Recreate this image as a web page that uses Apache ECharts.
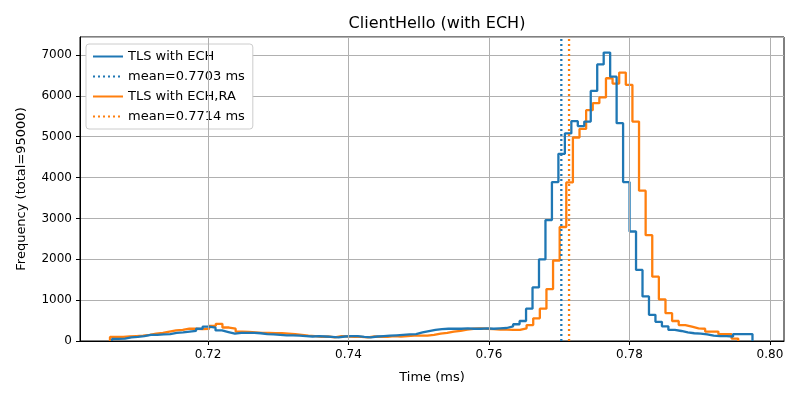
<!DOCTYPE html>
<html><head><meta charset="utf-8">
<script src="https://cdn.jsdelivr.net/npm/echarts@6/dist/echarts.min.js"></script>
<style>html,body{margin:0;padding:0;background:#fff}#c{width:800px;height:400px}</style>
</head><body><div id="c"></div>
<script>
const blueStart = 0.706335, blueWidth = 0.000921;
const blueCounts = [50,60,90,100,120,150,150,160,170,200,210,230,250,300,350,330,260,220,180,200,
200,200,190,170,160,150,140,140,130,120,110,120,110,100,90,110,120,120,100,90,
110,120,130,140,150,160,170,210,240,270,290,300,300,300,310,300,300,310,300,310,
318,360,410,490,790,1310,2000,2960,3890,4580,5080,5380,5260,5370,6120,6770,7060,6470,5330,3890,
2680,1740,1090,640,470,360,270,245,210,190,180,160,130,120,120,110,170,170,170];
const orangeStart = 0.70605, orangeWidth = 0.0009414;
const orangeCounts = [100,100,110,120,130,150,180,200,230,260,270,300,300,290,300,370,420,330,300,230,
220,210,200,200,190,190,180,170,150,130,120,100,110,90,120,110,100,100,90,110,
100,100,120,110,120,130,130,130,150,180,200,230,250,280,300,310,300,290,280,280,
270,270,310,390,555,790,1270,1970,2790,3880,4980,5190,5650,5820,5960,6430,6300,6570,6270,5370,
3680,2590,1575,1020,680,490,390,350,310,300,230,230,165,165,60];
const blueMean = 0.7703, orangeMean = 0.7714;
const xTicks = [0.72,0.74,0.76,0.78,0.80];
const yMax = 7440;

function stepPts(start, w, counts){
  const p=[[start,0]];
  counts.forEach((c,i)=>{p.push([start+i*w,c]);p.push([start+(i+1)*w,c]);});
  p.push([start+counts.length*w,0]);
  return p;
}
const BLUE='#1f77b4', ORANGE='#ff7f0e';
const chart = echarts.init(document.getElementById('c'));
chart.setOption({
  animation:false,
  title:{text:'ClientHello (with ECH)',left:432,top:11,textAlign:'center',textStyle:{fontFamily:'DejaVu Sans',fontSize:16,fontWeight:'normal',color:'#000'}},
  grid:{left:80,right:16,top:37,bottom:59,show:true,borderColor:'#000',borderWidth:1},
  legend:{orient:'vertical',left:86,top:44,backgroundColor:'#fff',borderColor:'#ccc',borderWidth:1,borderRadius:3,padding:[6,8,6,6],itemGap:7,itemWidth:30,itemHeight:12,
    itemStyle:{opacity:0},
    textStyle:{fontFamily:'DejaVu Sans',fontSize:13,color:'#000'},
    data:['TLS with ECH','mean=0.7703 ms','TLS with ECH,RA','mean=0.7714 ms']},
  xAxis:{type:'value',min:0.70178,max:0.8020,name:'Time (ms)',nameLocation:'middle',nameGap:30,
    nameTextStyle:{fontFamily:'DejaVu Sans',fontSize:13,color:'#000'},
    axisLine:{lineStyle:{color:'#000'}},splitLine:{show:false},
    axisTick:{customValues:xTicks,length:4,lineStyle:{color:'#000'}},
    axisLabel:{customValues:xTicks,formatter:v=>v.toFixed(2),fontFamily:'DejaVu Sans',fontSize:12,color:'#000'}},
  yAxis:{type:'value',min:0,max:yMax,interval:1000,name:'Frequency (total=95000)',nameLocation:'middle',nameGap:52,
    nameTextStyle:{fontFamily:'DejaVu Sans',fontSize:13,color:'#000'},
    axisLine:{show:true,lineStyle:{color:'#000'}},axisTick:{show:true,length:4,lineStyle:{color:'#000'}},
    splitLine:{lineStyle:{color:'#b0b0b0',width:1}},
    axisLabel:{showMaxLabel:false,formatter:v=>String(v),fontFamily:'DejaVu Sans',fontSize:12,color:'#000'}},
  series:[
    {name:'grid',type:'line',data:[],silent:true,markLine:{silent:true,symbol:'none',label:{show:false},lineStyle:{color:'#b0b0b0',type:'solid',width:1},data:xTicks.map(v=>({xAxis:v}))}},
    {name:'TLS with ECH',type:'line',symbol:'none',data:stepPts(blueStart,blueWidth,blueCounts),lineStyle:{color:BLUE,width:2.3},itemStyle:{color:BLUE},z:3},
    {name:'mean=0.7703 ms',type:'line',symbol:'none',data:[[blueMean,0],[blueMean,yMax]],lineStyle:{color:BLUE,width:2.3,type:[2,3]},itemStyle:{color:BLUE},z:4},
    {name:'TLS with ECH,RA',type:'line',symbol:'none',data:stepPts(orangeStart,orangeWidth,orangeCounts),lineStyle:{color:ORANGE,width:2.3},itemStyle:{color:ORANGE},z:2},
    {name:'mean=0.7714 ms',type:'line',symbol:'none',data:[[orangeMean,0],[orangeMean,yMax]],lineStyle:{color:ORANGE,width:2.3,type:[2,3]},itemStyle:{color:ORANGE},z:4}
  ]
});
</script></body></html>
